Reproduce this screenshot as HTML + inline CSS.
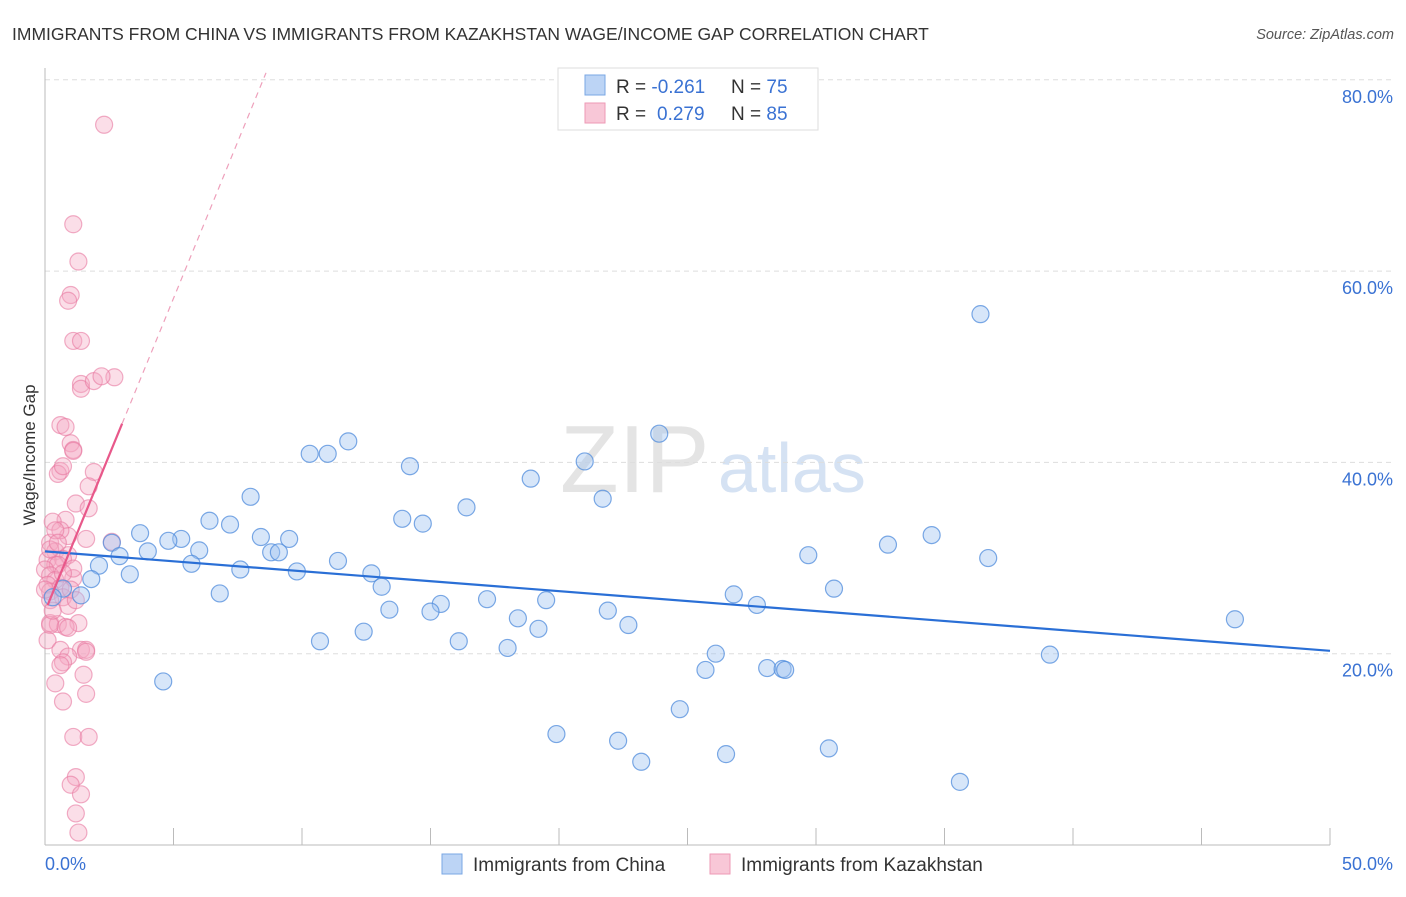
<!DOCTYPE html>
<html><head><meta charset="utf-8"><style>
body{margin:0;background:#fff;font-family:"Liberation Sans",sans-serif}
svg text{font-family:"Liberation Sans",sans-serif}
</style></head><body>
<svg id="c" width="1406" height="892" xmlns="http://www.w3.org/2000/svg">
<text x="12" y="40" font-size="17.5" fill="#333">IMMIGRANTS FROM CHINA VS IMMIGRANTS FROM KAZAKHSTAN WAGE/INCOME GAP CORRELATION CHART</text>
<text x="1394" y="39" font-size="14.5" fill="#555" text-anchor="end" font-style="italic">Source: ZipAtlas.com</text>
<text x="560" y="492" font-size="96" fill="#e4e4e4" font-family="Liberation Serif">ZIP</text>
<text x="718" y="492" font-size="70" fill="#d5e2f3">atlas</text>
<g id="grid"></g>
<g id="axes"></g>
<g id="pts"></g>
<g id="trend"></g>
<text x="35" y="455" font-size="17" fill="#333" text-anchor="middle" transform="rotate(-90 35 455)">Wage/Income Gap</text>
<g>
<rect x="558" y="68" width="260" height="62" fill="#fff" stroke="#ddd"/>
<rect x="585" y="75" width="20" height="20" fill="#bcd4f5" stroke="#7aa7e4"/>
<rect x="585" y="103" width="20" height="20" fill="#f8c7d7" stroke="#ee9ab6"/>
<text x="616" y="93" font-size="19" fill="#333">R = <tspan fill="#3a72d3">-0.261</tspan><tspan x="731">N = </tspan><tspan fill="#3a72d3">75</tspan></text>
<text x="616" y="120" font-size="19" fill="#333">R = <tspan x="657" fill="#3a72d3">0.279</tspan><tspan x="731">N = </tspan><tspan fill="#3a72d3">85</tspan></text>
</g>
<g>
<rect x="442" y="854" width="20" height="20" fill="#bcd4f5" stroke="#7aa7e4"/>
<text x="473" y="871" font-size="19" fill="#333">Immigrants from China</text>
<rect x="710" y="854" width="20" height="20" fill="#f8c7d7" stroke="#ee9ab6"/>
<text x="741" y="871" font-size="19" fill="#333">Immigrants from Kazakhstan</text>
</g>
</svg>
<script>
const yTicks=[20,40,60,80];
const yTickLabels=["20.0%","40.0%","60.0%","80.0%"];
const xTicks=[0,5,10,15,20,25,30,35,40,45,50];
const xEndLabels=["0.0%","50.0%"];
const chinaX=[36.4,23.9,11.8,10.3,11.0,21.0,14.2,18.9,8.0,21.7,16.4,6.4,7.2,13.9,14.7,3.7,5.3,4.8,2.6,8.4,9.5,2.9,4.0,6.0,8.8,9.1,11.4,5.7,2.1,3.3,7.6,9.8,12.7,13.1,1.8,0.7,1.4,0.3,6.8,29.7,32.8,34.5,36.7,30.7,26.8,27.7,17.2,19.5,15.4,13.4,15.0,21.9,18.4,22.7,46.3,12.4,19.2,10.7,16.1,18.0,26.1,39.1,25.7,28.1,28.7,28.8,4.6,24.7,19.9,22.3,30.5,26.5,23.2,35.6];
const chinaY=[55.5,43.0,42.2,40.9,40.9,40.1,39.6,38.3,36.4,36.2,35.3,33.9,33.5,34.1,33.6,32.6,32.0,31.8,31.6,32.2,32.0,30.2,30.7,30.8,30.6,30.6,29.7,29.4,29.2,28.3,28.8,28.6,28.4,27.0,27.8,26.8,26.1,25.9,26.3,30.3,31.4,32.4,30.0,26.8,26.2,25.1,25.7,25.6,25.2,24.6,24.4,24.5,23.7,23.0,23.6,22.3,22.6,21.3,21.3,20.6,20.0,19.9,18.3,18.5,18.4,18.3,17.1,14.2,11.6,10.9,10.1,9.5,8.7,6.6];
const kazX=[2.3,1.1,1.3,1.0,0.9,1.1,1.4,1.4,1.4,1.9,2.7,2.2,0.6,0.8,1.0,1.1,1.1,0.6,0.5,1.9,0.7,1.7,1.2,1.7,0.8,0.3,0.9,1.6,0.2,0.4,0.9,0.7,0.1,0.4,0.5,0.0,0.2,1.1,0.4,0.1,0.6,0.2,0.7,0.9,0.2,0.5,1.3,0.2,0.8,0.1,0.6,1.4,1.6,0.9,0.7,0.6,1.5,0.4,0.7,1.6,1.1,1.7,1.2,1.0,1.4,1.2,1.3,2.6,0.6,0.4,0.2,1.0,1.1,0.3,0.9,1.2,0.0,0.2,0.7,0.5,1.6];
const kazY=[75.3,64.9,61.0,57.5,56.9,52.7,52.7,48.2,47.7,48.5,48.9,49.0,43.9,43.7,42.0,41.3,41.2,39.1,38.8,39.0,39.6,37.5,35.7,35.2,34.0,33.8,32.3,32.0,31.6,30.7,30.3,29.9,29.8,29.3,29.3,28.8,28.2,27.9,27.7,27.2,26.9,26.5,25.9,25.0,23.2,23.1,23.2,23.0,22.8,21.4,20.4,20.4,20.4,19.7,19.1,18.8,17.8,16.9,15.0,15.8,11.3,11.3,7.1,6.3,5.3,3.3,1.3,31.7,32.9,32.9,25.6,26.7,28.9,24.5,22.7,25.6,26.7,30.9,28.4,31.6,20.2];
const chinaTrend=[30.7,20.3]; // y at x=0 and x=50
const kazTrend=[24.4,6.55,3.0,8.6]; // intercept, slope, solid end x, dashed end x

const NS="http://www.w3.org/2000/svg";
const X0=45,X1=1330,Y0=845,YPX=9.565;
const sx=v=>X0+(X1-X0)*v/50, sy=v=>Y0-v*YPX;
function mk(tag,attrs,parent){const e=document.createElementNS(NS,tag);for(const k in attrs)e.setAttribute(k,attrs[k]);parent.appendChild(e);return e;}
const grid=document.getElementById('grid'),axes=document.getElementById('axes'),pts=document.getElementById('pts'),trend=document.getElementById('trend');
yTicks.forEach((t,i)=>{
 const l=mk('line',{x1:X0,x2:1394,y1:sy(t),y2:sy(t),stroke:'#ddd','stroke-dasharray':'5,4'},grid);
 
 
 const tx=mk('text',{x:1393,y:sy(t)+23,'font-size':18,fill:'#3a72d3','text-anchor':'end'},grid);
 tx.textContent=yTickLabels[i];
 
 
});
const ya=mk('line',{x1:X0,x2:X0,y1:68,y2:Y0,stroke:'#bbb'},axes);


const xa=mk('line',{x1:X0,x2:X1,y1:Y0,y2:Y0,stroke:'#bbb'},axes);


xTicks.forEach(t=>{
 const l=mk('line',{x1:sx(t),x2:sx(t),y1:828,y2:Y0,stroke:'#bbb'},axes);
 
 
});
const xl0=mk('text',{x:45,y:870,'font-size':18,fill:'#3a72d3'},axes);xl0.textContent=xEndLabels[0];


const xl1=mk('text',{x:1393,y:870,'font-size':18,fill:'#3a72d3','text-anchor':'end'},axes);xl1.textContent=xEndLabels[1];


kazX.forEach((v,i)=>{
 const c=mk('circle',{cx:sx(v),cy:sy(kazY[i]),r:8.5,fill:'rgba(244,168,195,0.38)',stroke:'rgba(232,120,160,0.6)','stroke-width':1.2},pts);
 
 
});
chinaX.forEach((v,i)=>{
 const c=mk('circle',{cx:sx(v),cy:sy(chinaY[i]),r:8.5,fill:'rgba(160,196,240,0.42)',stroke:'rgba(80,140,220,0.75)','stroke-width':1.2},pts);
 
 
});
const bt=mk('line',{x1:sx(0),y1:sy(chinaTrend[0]),x2:sx(50),y2:sy(chinaTrend[1]),stroke:'#2a6fd6','stroke-width':2.2},trend);


const kf=x=>kazTrend[0]+kazTrend[1]*x;
const pt=mk('line',{x1:sx(0.1),y1:sy(kf(0.1)),x2:sx(kazTrend[2]),y2:sy(kf(kazTrend[2])),stroke:'#e8588a','stroke-width':2.2},trend);


const pd=mk('line',{x1:sx(kazTrend[2]),y1:sy(kf(kazTrend[2])),x2:sx(kazTrend[3]),y2:sy(kf(kazTrend[3])),stroke:'#eea0bb','stroke-width':1.2,'stroke-dasharray':'6,5'},trend);


</script>
</body></html>
